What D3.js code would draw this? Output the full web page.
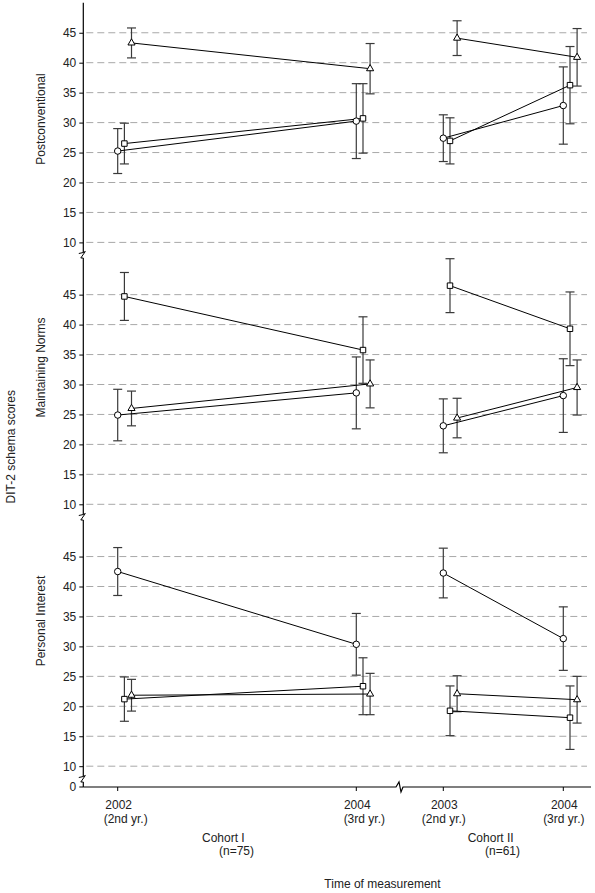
<!DOCTYPE html>
<html><head><meta charset="utf-8">
<script src="https://cdn.jsdelivr.net/npm/d3@7"></script>
<style>
html,body{margin:0;padding:0;background:#fff;}
svg{display:block;font-family:"Liberation Sans",Arial,sans-serif;}
</style></head>
<body><svg id="c" width="595" height="893"></svg>
<script>
// ---- data ----
const panelNames = ["Postconventional", "Maintaining Norms", "Personal Interest"];
const cohortNames = ["Cohort I", "Cohort II"];
const cohortN = ["(n=75)", "(n=61)"];
const cohortYears = [[2002, 2004], [2003, 2004]];
const yearNotes = [["(2nd yr.)", "(3rd yr.)"], ["(2nd yr.)", "(3rd yr.)"]];
const seriesSymbols = ["circle", "square", "triangle"];
const yTicks = [10, 15, 20, 25, 30, 35, 40, 45];
// means: order C-I t1, C-I t2, C-II t1, C-II t2
const postMeans = { circle: [25.25, 30.25, 27.4, 32.85], square: [26.5, 30.7, 26.95, 36.25], triangle: [43.3, 39.0, 44.1, 40.9] };
const postErr   = { circle: [3.75, 6.25, 3.9, 6.45],    square: [3.4, 5.8, 3.85, 6.45],     triangle: [2.5, 4.2, 2.9, 4.8] };
const normMeans = { circle: [24.9, 28.6, 23.1, 28.15],  square: [44.7, 35.75, 46.5, 39.3],  triangle: [26.0, 30.1, 24.4, 29.5] };
const normErr   = { circle: [4.3, 6.0, 4.5, 6.15],      square: [4.0, 5.55, 4.5, 6.15],     triangle: [2.9, 4.0, 3.3, 4.6] };
const persMeans = { circle: [42.5, 30.35, 42.25, 31.3], square: [21.2, 23.35, 19.25, 18.1], triangle: [21.85, 22.05, 22.1, 21.1] };
const persErr   = { circle: [4.0, 5.15, 4.15, 5.3],     square: [3.7, 4.75, 4.15, 5.3],     triangle: [2.65, 3.45, 3.0, 3.9] };

const allMeans = [postMeans, normMeans, persMeans];
const allErr = [postErr, normErr, persErr];

// ---- layout ----
const svg = d3.select("#c");
const axisX = 83.3, gridEnd = 587, xAxisEnd = 591, xAxisY = 787;
const panelTop0 = 2.8, panelStep = 261.9, panelH = 239.6;
const xScales = [
  d3.scaleLinear().domain([2002, 2004]).range([117.7, 356.3]),
  d3.scaleLinear().domain([2003, 2004]).range([443.3, 563.3])
];
const seriesOffset = { circle: 0, square: 6.7, triangle: 13.8 };
const symType = { circle: d3.symbolCircle, square: d3.symbolSquare, triangle: d3.symbolTriangle };
const symSize = { circle: 33, square: 30, triangle: 22 };
const txt = "#222";

const yScales = panelNames.map((_, i) =>
  d3.scaleLinear().domain([50, 10]).range([panelTop0 + i * panelStep, panelTop0 + i * panelStep + panelH]));

// grid + y ticks
panelNames.forEach((name, i) => {
  const y = yScales[i];
  const g = svg.append("g");
  g.selectAll("line.grid").data(yTicks).join("line")
    .attr("x1", axisX + 3).attr("x2", gridEnd)
    .attr("y1", d => y(d)).attr("y2", d => y(d))
    .attr("stroke", "#a8a8a8").attr("stroke-width", 1).attr("stroke-dasharray", "7,4");
  const ax = d3.axisLeft(y).tickValues(yTicks).tickSize(4).tickSizeOuter(0).tickPadding(3);
  const ag = svg.append("g").attr("transform", `translate(${axisX},0)`).call(ax);
  ag.select(".domain").remove();
  ag.selectAll(".tick line").attr("stroke", "#000");
  ag.selectAll(".tick text").attr("font-size", 12).attr("fill", txt).attr("font-family", "Liberation Sans, Arial, sans-serif");
});

// y axis line with breaks
const breaksY = [254.5, 516.5, 778.5];
const segs = [[panelTop0, breaksY[0] - 2], [breaksY[0] + 3.5, breaksY[1] - 2], [breaksY[1] + 3.5, breaksY[2] - 2], [breaksY[2] + 3.5, xAxisY]];
segs.forEach(s => svg.append("line").attr("x1", axisX).attr("x2", axisX).attr("y1", s[0]).attr("y2", s[1]).attr("stroke", "#000").attr("stroke-width", 1.2));
breaksY.forEach(b => svg.append("path")
  .attr("d", `M${axisX - 4.5},${b - 1} L${axisX},${b - 2} L${axisX + 2},${b - 3} L${axisX - 2.5},${b + 3.5} L${axisX},${b + 3.5}`)
  .attr("fill", "none").attr("stroke", "#000").attr("stroke-width", 1));
// zero tick
svg.append("line").attr("x1", axisX - 4).attr("x2", axisX).attr("y1", xAxisY).attr("y2", xAxisY).attr("stroke", "#000");
svg.append("text").attr("x", axisX - 7).attr("y", xAxisY + 4.3).attr("text-anchor", "end").attr("font-size", 12).attr("fill", txt).text("0");

// x axis with break
const xb = 400;
svg.append("path")
  .attr("d", `M${axisX},${xAxisY} L${xb - 4},${xAxisY} L${xb - 1},${xAxisY - 5} L${xb + 1},${xAxisY + 5} L${xb + 3},${xAxisY} L${xAxisEnd},${xAxisY}`)
  .attr("fill", "none").attr("stroke", "#000").attr("stroke-width", 1.2);

// x ticks + labels
cohortYears.forEach((years, c) => {
  const xs = xScales[c];
  years.forEach((yr, k) => {
    const x = xs(yr);
    svg.append("line").attr("x1", x).attr("x2", x).attr("y1", xAxisY).attr("y2", xAxisY + 4).attr("stroke", "#000");
    svg.append("text").attr("x", x + 1).attr("y", 809).attr("text-anchor", "middle").attr("font-size", 12).attr("fill", txt).text(String(yr));
    svg.append("text").attr("x", x + (c === 0 ? 8 : 0.5)).attr("y", 822.5).attr("text-anchor", "middle").attr("font-size", 12).attr("fill", txt).text(yearNotes[c][k]);
  });
});
const cohortLabelX = [[202, 219], [467.7, 485]];
cohortNames.forEach((n, c) => {
  svg.append("text").attr("x", cohortLabelX[c][0]).attr("y", 841.5).attr("font-size", 12).attr("fill", txt).text(n);
  svg.append("text").attr("x", cohortLabelX[c][1]).attr("y", 855).attr("font-size", 12).attr("fill", txt).text(cohortN[c]);
});
svg.append("text").attr("x", 382.5).attr("y", 887.5).attr("text-anchor", "middle").attr("font-size", 12).attr("fill", txt).text("Time of measurement");

// y titles
const titleY = [119, 367.5, 621];
panelNames.forEach((n, i) => {
  svg.append("text").attr("transform", `translate(44.5,${titleY[i]}) rotate(-90)`).attr("text-anchor", "middle")
    .attr("font-size", 12).attr("fill", txt).text(n);
});
svg.append("text").attr("transform", `translate(14.5,446.7) rotate(-90)`).attr("text-anchor", "middle")
  .attr("font-size", 12).attr("fill", txt).text("DIT-2 schema scores");

// series
panelNames.forEach((_, p) => {
  const y = yScales[p];
  const g = svg.append("g");
  const pts = [];
  seriesSymbols.forEach(s => {
    cohortYears.forEach((years, c) => {
      const arr = years.map((yr, k) => ({
        s, x: xScales[c](yr) + seriesOffset[s],
        m: allMeans[p][s][c * 2 + k], e: allErr[p][s][c * 2 + k]
      }));
      pts.push(arr);
    });
  });
  const flat = pts.flat();
  // error bars
  flat.forEach(d => {
    g.append("line").attr("x1", d.x).attr("x2", d.x).attr("y1", y(d.m + d.e)).attr("y2", y(d.m - d.e)).attr("stroke", "#3a3a3a").attr("stroke-width", 1.2);
    [d.m + d.e, d.m - d.e].forEach(v => g.append("line").attr("x1", d.x - 4.5).attr("x2", d.x + 4.5).attr("y1", y(v)).attr("y2", y(v)).attr("stroke", "#3a3a3a").attr("stroke-width", 1.2));
  });
  // lines
  const line = d3.line().x(d => d.x).y(d => y(d.m));
  pts.forEach(arr => g.append("path").attr("d", line(arr)).attr("fill", "none").attr("stroke", "#000").attr("stroke-width", 1));
  // markers
  flat.forEach(d => {
    g.append("path").attr("d", d3.symbol().type(symType[d.s]).size(symSize[d.s])())
      .attr("transform", `translate(${d.x},${y(d.m)})`)
      .attr("fill", "#fff").attr("stroke", "#000").attr("stroke-width", 1);
  });
});
</script>
</body></html>
